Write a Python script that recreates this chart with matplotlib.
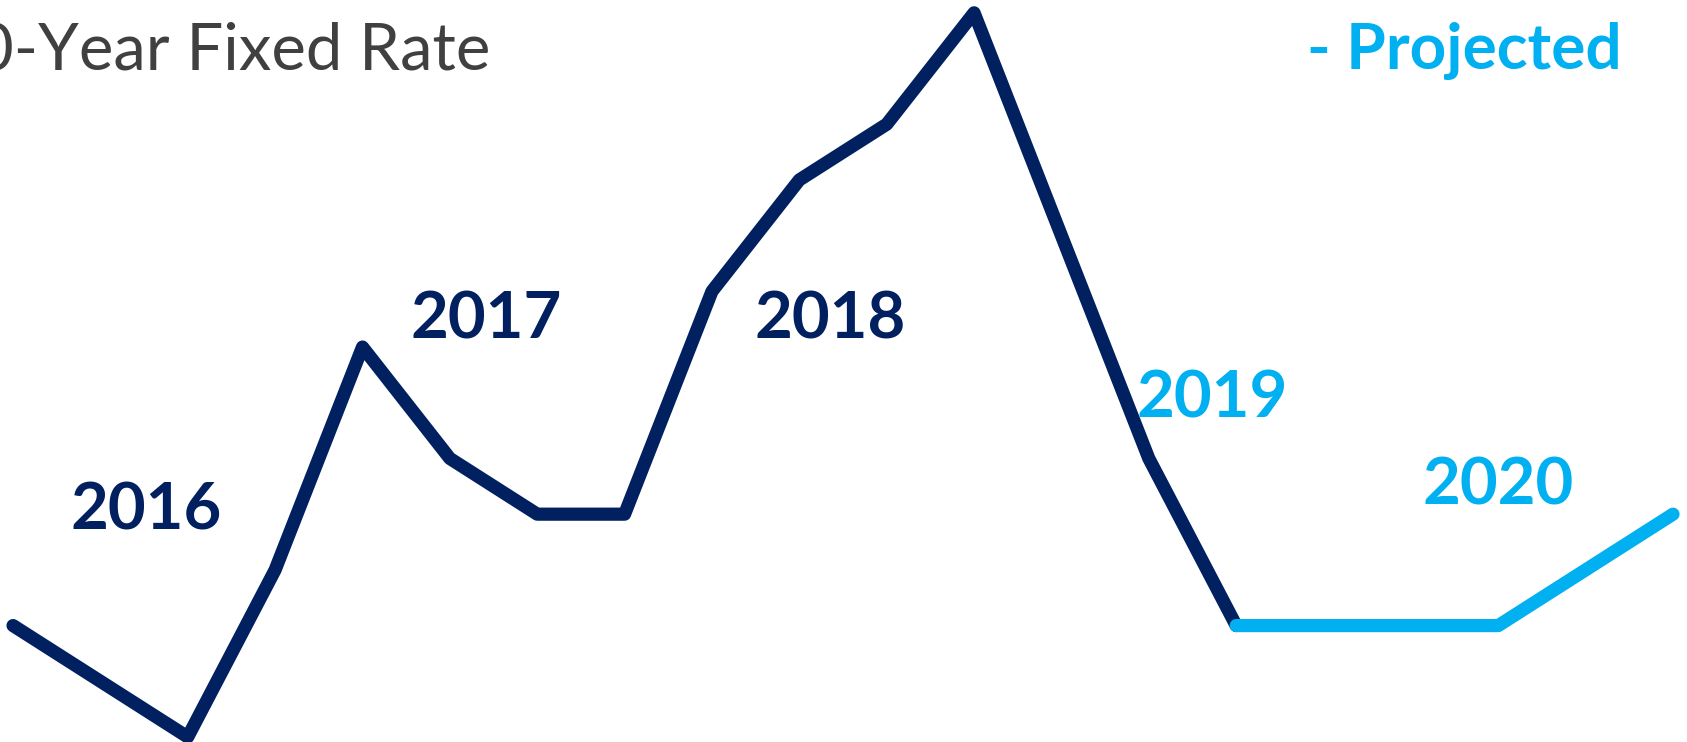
import matplotlib
matplotlib.use("Agg")
import matplotlib.pyplot as plt

# Quarterly 30-year fixed mortgage rate (%), 2016 Q1 - 2020 Q4
quarters = ["2016 Q1", "2016 Q2", "2016 Q3", "2016 Q4",
            "2017 Q1", "2017 Q2", "2017 Q3", "2017 Q4",
            "2018 Q1", "2018 Q2", "2018 Q3", "2018 Q4",
            "2019 Q1", "2019 Q2", "2019 Q3", "2019 Q4",
            "2020 Q1", "2020 Q2", "2020 Q3", "2020 Q4"]
rates = [3.7, 3.6, 3.5, 3.8,
         4.2, 4.0, 3.9, 3.9,
         4.3, 4.5, 4.6, 4.8,
         4.4, 4.0, 3.7, 3.7,
         3.7, 3.7, 3.8, 3.9]
first_projected = 14  # index where the forecast begins

year_labels = ["2016", "2017", "2018", "2019", "2020"]
year_label_x = [1.52, 5.42, 9.35, 13.73, 17.0]
year_label_y = [3.873, 4.215, 4.215, 4.073, 3.917]
year_projected = [False, False, False, True, True]

NAVY = "#002060"
CYAN = "#00B0F0"
GREY = "#404040"

plt.rcParams["font.family"] = ["Lato", "DejaVu Sans"]

fig = plt.figure(figsize=(16.87, 7.42), dpi=100)
ax = fig.add_axes([0, 0, 1, 1])
ax.set_axis_off()

x = list(range(len(rates)))
lw = 9.5
ax.plot(x[:first_projected + 1], rates[:first_projected + 1], color=NAVY,
        lw=lw, solid_capstyle="round", solid_joinstyle="round", zorder=2)
ax.plot(x[first_projected:], rates[first_projected:], color=CYAN,
        lw=lw, solid_capstyle="round", solid_joinstyle="round", zorder=3)

ax.set_xlim(-0.149, 19.16)
ax.set_ylim(3.491, 4.823)

for label, lx, ly, proj in zip(year_labels, year_label_x, year_label_y, year_projected):
    ax.text(lx, ly, label, ha="center", va="baseline", fontsize=47,
            fontweight="bold", color=CYAN if proj else NAVY)

fig.text(490 / 1687, 1 - 69 / 742, "30-Year Fixed Rate", ha="right",
         va="baseline", fontsize=47, color=GREY)
fig.text(1307 / 1687, 1 - 69 / 742, "- Projected", ha="left",
         va="baseline", fontsize=46, fontweight="bold", color=CYAN)

fig.savefig("out.png", dpi=100, facecolor="white")
